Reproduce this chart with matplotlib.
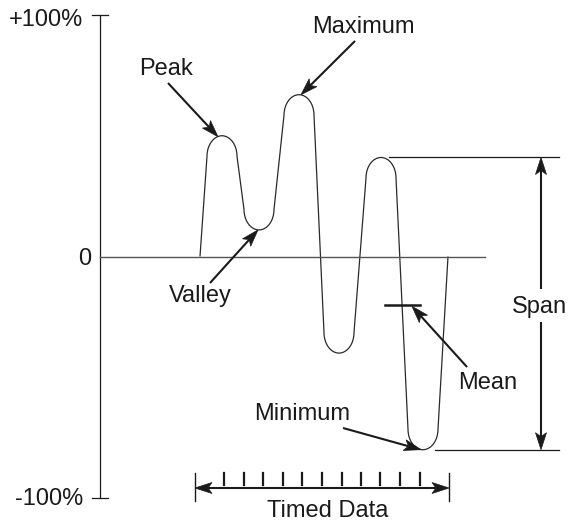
import numpy as np
import matplotlib
matplotlib.use('Agg')
import matplotlib.pyplot as plt
from matplotlib.path import Path
from matplotlib.patches import PathPatch, Polygon

# waveform turning points: time (px-like units) and value (% of full scale)
ext_time = [222, 259, 299, 339, 381, 423]
ext_value = [50, 11, 67, -40, 41, -80]
start_time = 200
end_time = 448
mean_value = -20

# timed data window and sample ticks
timed_start = 195
timed_end = 449
sample_times = [224, 244, 263, 283, 302, 322, 342, 361, 380, 400, 420]

y_labels = ['+100%', '0', '-100%']
y_label_values = [100, 0, -100]

plt.rcParams['font.family'] = ['Liberation Sans', 'DejaVu Sans']
FS = 17
INK = '#1a1a1a'


def Y(py):
    '''pixel row -> percent, used only for placing labels / arrows'''
    return (256.5 - py) / 2.415


def P(v):
    '''percent -> pixel row'''
    return 256.5 - 2.415 * v


fig = plt.figure(figsize=(5.69, 5.21), dpi=100)
ax = fig.add_axes([0, 0, 1, 1])
ax.set_xlim(0, 569)
ax.set_ylim(Y(521), Y(0))
ax.axis('off')

# vertical scale
ax.plot([100, 100], [-100, 100], color=INK, lw=0.9)
for v in y_label_values:
    if v != 0:
        ax.plot([92, 108], [v, v], color=INK, lw=0.9)
ax.text(83, Y(26), y_labels[0], ha='right', va='baseline', fontsize=FS, color=INK)
ax.text(91, Y(265), y_labels[1], ha='right', va='baseline', fontsize=FS, color=INK)
ax.text(83, Y(505), y_labels[2], ha='right', va='baseline', fontsize=FS, color=INK)

# zero line
ax.plot([100, 485], [0, 0], color='#555555', lw=1.0)

# waveform: straight flanks with rounded turns
R = 15
H = 8.5
K = 0.552
verts = [(start_time, 0)]
codes = [Path.MOVETO]
for i, (t, v) in enumerate(zip(ext_time, ext_value)):
    s = 1 if i % 2 == 0 else -1
    verts += [(t - R, v - s * H)]
    codes += [Path.LINETO]
    verts += [(t - R, v - s * H * (1 - K)), (t - R * K, v), (t, v)]
    codes += [Path.CURVE4] * 3
    verts += [(t + R * K, v), (t + R, v - s * H * (1 - K)), (t + R, v - s * H)]
    codes += [Path.CURVE4] * 3
verts += [(end_time, 0)]
codes += [Path.LINETO]
ax.add_patch(PathPatch(Path(verts, codes), fill=False, edgecolor='#2a2a2a', lw=0.9))


def head(x0, py0, x1, py1, L=17, W=5.5, notch=4):
    '''notched arrow head at (x1, py1), pointing away from (x0, py0); pixel space'''
    u = np.array([x1 - x0, py1 - py0], float)
    u /= np.hypot(*u)
    n = np.array([-u[1], u[0]])
    tip = np.array([x1, py1], float)
    pts = [tip, tip - L * u + W * n, tip - (L - notch) * u, tip - L * u - W * n]
    ax.add_patch(Polygon([(p[0], Y(p[1])) for p in pts], closed=True,
                         facecolor=INK, edgecolor=INK, lw=0.5))
    return tip - (L - notch) * u


def arrow(x0, py0, x1, py1, both=False):
    '''arrow in pixel space, head at the second point'''
    b = head(x0, py0, x1, py1)
    a = (x0, py0)
    if both:
        a = head(x1, py1, x0, py0)
    ax.plot([a[0], b[0]], [Y(a[1]), Y(b[1])], color=INK, lw=1.5,
            solid_capstyle='butt')


# Peak
ax.text(166, Y(75), 'Peak', ha='center', va='baseline', fontsize=FS, color=INK)
arrow(168, 83, ext_time[0] - 4, P(ext_value[0]) + 1)

# Maximum
ax.text(363, Y(33), 'Maximum', ha='center', va='baseline', fontsize=FS, color=INK)
arrow(355, 41, ext_time[2] + 2, P(ext_value[2]))

# Valley
ax.text(200, Y(302), 'Valley', ha='center', va='baseline', fontsize=FS, color=INK)
arrow(210, 283, ext_time[1] - 1, P(ext_value[1]))

# Minimum
ax.text(350, Y(420), 'Minimum', ha='right', va='baseline', fontsize=FS, color=INK)
arrow(343, 428, ext_time[5] - 2, P(ext_value[5]))

# Mean
ax.plot([385, 420], [mean_value, mean_value], color=INK, lw=1.8)
ax.text(488, Y(389), 'Mean', ha='center', va='baseline', fontsize=FS, color=INK)
arrow(467, 367, 412, P(mean_value) + 1.5)

# Span
span_top = ext_value[4]
span_bot = ext_value[5]
ax.plot([389, 559], [span_top, span_top], color=INK, lw=0.9)
ax.plot([435, 559], [span_bot, span_bot], color=INK, lw=0.9)
arrow(541, 289, 541, P(span_top))
arrow(541, 322, 541, P(span_bot))
ax.text(539, Y(313), 'Span', ha='center', va='baseline', fontsize=FS, color=INK)

# Timed data
arrow(timed_start, 488, timed_end, 488, both=True)
for x in (timed_start, timed_end):
    ax.plot([x, x], [Y(473), Y(501)], color=INK, lw=1.0)
for x in sample_times:
    ax.plot([x, x], [Y(473), Y(485)], color=INK, lw=1.6)
ax.text(328, Y(517), 'Timed Data', ha='center', va='baseline', fontsize=FS, color=INK)

fig.savefig('out.png', dpi=100, facecolor='white')
